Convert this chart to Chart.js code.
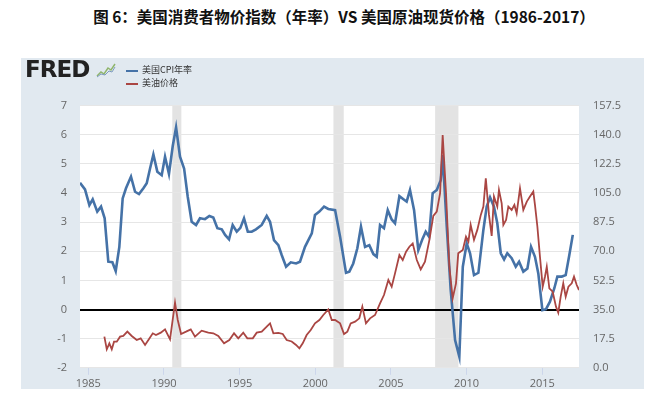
<!DOCTYPE html>
<html>
<head>
<meta charset="utf-8">
<script src="https://cdn.jsdelivr.net/npm/chart.js@4.4.0/dist/chart.umd.min.js"></script>
<style>
    body { margin: 0; width: 662px; height: 411px; background: #fff; position: relative; overflow: hidden; font-family: "Noto Sans CJK SC", sans-serif; }
    #titulo { position: absolute; top: 5px; left: 13px; width: 662px; text-align: center; font-size: 15.5px; font-weight: bold; color: #111; white-space: nowrap; }
    #grafico { position: absolute; left: 0; top: 0; }
    #logo { position: absolute; left: 25px; top: 56px; font-family: "DejaVu Sans", sans-serif; font-weight: bold; font-size: 23px; letter-spacing: -1px; color: #222; }
    #icone { position: absolute; left: 96px; top: 62px; }
    .leg { position: absolute; left: 126px; font-size: 9px; color: #333; line-height: 12px; }
    .leg span { display: inline-block; width: 12px; height: 2px; vertical-align: middle; margin-right: 4px; }
</style>
</head>
<body>
<div id="titulo">图 6：美国消费者物价指数（年率）VS 美国原油现货价格（1986-2017）</div>
<canvas id="grafico" width="662" height="411"></canvas>
<div id="logo">FRED</div>
<svg id="icone" width="20" height="16">
    <rect x="0" y="0" width="20" height="16" fill="#e1e9f0"/>
    <polyline points="1,14 5,10 8,12 12,6 15,8 19,2" fill="none" stroke="#8fb56c" stroke-width="1.5"/>
    <polyline points="1,15 5,12 9,13 13,9 16,10 19,5" fill="none" stroke="#7d9bbf" stroke-width="1"/>
</svg>
<div class="leg" style="top:64px"><span style="background:#4572a7"></span>美国CPI年率</div>
<div class="leg" style="top:77px"><span style="background:#aa4643"></span>美油价格</div>

<script>
// ===== Dados =====
const anosCPI = [1984.45, 1984.78, 1985.07, 1985.29, 1985.59, 1985.84, 1986.08, 1986.32, 1986.59, 1986.81,
    1987.05, 1987.27, 1987.49, 1987.82, 1988.09, 1988.35, 1988.64, 1988.86, 1989.08, 1989.30,
    1989.56, 1989.85, 1990.07, 1990.33, 1990.58, 1990.80, 1991.06, 1991.33, 1991.57, 1991.83,
    1992.12, 1992.38, 1992.71, 1993.00, 1993.26, 1993.53, 1993.82, 1994.04, 1994.30, 1994.54,
    1994.81, 1995.05, 1995.29, 1995.54, 1995.80, 1996.08, 1996.46, 1996.79, 1997.01, 1997.27,
    1997.56, 1997.78, 1998.07, 1998.38, 1998.73, 1998.99, 1999.32, 1999.77, 1999.98, 2000.27,
    2000.58, 2000.86, 2001.31, 2001.64, 2002.03, 2002.25, 2002.51, 2002.78, 2003.02, 2003.29,
    2003.57, 2003.84, 2004.06, 2004.28, 2004.54, 2004.79, 2005.05, 2005.27, 2005.56, 2006.04,
    2006.26, 2006.53, 2006.81, 2007.10, 2007.30, 2007.52, 2007.76, 2008.03, 2008.29, 2008.42,
    2008.69, 2008.95, 2009.24, 2009.52, 2009.75, 2010.01, 2010.23, 2010.49, 2010.78, 2011.11,
    2011.33, 2011.55, 2011.81, 2012.03, 2012.26, 2012.48, 2012.69, 2012.98, 2013.25, 2013.47,
    2013.75, 2014.02, 2014.26, 2014.52, 2014.74, 2015.01, 2015.25, 2015.51, 2015.80, 2016.00,
    2016.29, 2016.55, 2016.77, 2017.02];
const valoresCPI = [4.35, 4.12, 3.58, 3.78, 3.36, 3.53, 3.13, 1.64, 1.62, 1.32,
    2.15, 3.81, 4.16, 4.56, 4.04, 3.96, 4.16, 4.33, 4.84, 5.32,
    4.73, 4.61, 5.24, 4.65, 5.61, 6.25, 5.24, 4.84, 3.87, 3.01,
    2.90, 3.13, 3.10, 3.21, 3.16, 2.79, 2.75, 2.56, 2.41, 2.90,
    2.67, 2.80, 3.13, 2.67, 2.67, 2.75, 2.90, 3.21, 3.01, 2.38,
    2.21, 1.87, 1.47, 1.62, 1.58, 1.64, 2.15, 2.61, 3.24, 3.36,
    3.53, 3.45, 3.41, 2.50, 1.26, 1.30, 1.58, 2.10, 2.84, 2.15,
    2.21, 1.90, 1.81, 2.90, 2.79, 3.41, 3.09, 2.96, 3.89, 3.70,
    4.10, 3.41, 2.04, 2.44, 2.67, 2.50, 3.99, 4.10, 4.44, 5.30,
    2.84, 0.67, -1.05, -1.62, 1.47, 2.27, 1.93, 1.18, 1.26, 2.73,
    3.53, 3.85, 3.53, 2.96, 1.93, 1.72, 1.93, 1.76, 1.47, 1.64,
    1.30, 1.41, 2.15, 1.81, 1.24, -0.02, 0.01, 0.27, 0.73, 1.13,
    1.13, 1.18, 1.81, 2.56];

const anosPetroleo = [1986.06, 1986.22, 1986.39, 1986.55, 1986.70, 1986.88, 1987.10, 1987.31, 1987.58, 1987.87,
    1988.20, 1988.46, 1988.75, 1988.97, 1989.26, 1989.47, 1989.79, 1990.07, 1990.40, 1990.73,
    1990.91, 1991.13, 1991.46, 1991.77, 1992.05, 1992.49, 1992.93, 1993.26, 1993.59, 1993.97,
    1994.32, 1994.63, 1994.91, 1995.24, 1995.51, 1995.87, 1996.13, 1996.46, 1996.79, 1997.01,
    1997.23, 1997.56, 1997.85, 1998.11, 1998.44, 1998.73, 1998.95, 1999.17, 1999.43, 1999.70,
    1999.98, 2000.27, 2000.53, 2000.86, 2001.09, 2001.31, 2001.64, 2001.90, 2002.12, 2002.34,
    2002.63, 2002.91, 2003.11, 2003.35, 2003.62, 2003.95, 2004.28, 2004.54, 2004.83, 2005.05,
    2005.27, 2005.56, 2005.78, 2006.00, 2006.22, 2006.44, 2006.71, 2006.97, 2007.25, 2007.54,
    2007.80, 2008.03, 2008.25, 2008.42, 2008.64, 2008.86, 2009.08, 2009.30, 2009.45, 2009.75,
    2009.96, 2010.12, 2010.27, 2010.49, 2010.71, 2010.94, 2011.11, 2011.27, 2011.48, 2011.66,
    2011.81, 2012.03, 2012.14, 2012.32, 2012.43, 2012.61, 2012.76, 2012.98, 2013.16, 2013.31,
    2013.53, 2013.75, 2013.98, 2014.19, 2014.41, 2014.52, 2014.68, 2014.85, 2015.03, 2015.18,
    2015.30, 2015.47, 2015.69, 2015.91, 2016.06, 2016.22, 2016.39, 2016.55, 2016.73, 2016.95,
    2017.10, 2017.28, 2017.43];
const valoresPetroleo = [18.7, 11.1, 14.7, 11.1, 15.7, 15.7, 18.7, 19.1, 21.7, 19.1,
    16.7, 17.7, 13.7, 16.7, 20.7, 19.7, 21.1, 23.1, 17.1, 39.1,
    28.7, 20.3, 21.7, 23.1, 18.7, 22.3, 21.1, 20.7, 19.1, 14.7,
    16.7, 20.7, 17.7, 21.1, 17.7, 17.7, 21.1, 21.7, 24.7, 26.7,
    20.7, 21.0, 20.3, 16.7, 15.8, 13.7, 11.7, 14.7, 19.7, 22.7,
    26.7, 28.7, 31.7, 35.0, 28.7, 28.7, 26.7, 20.3, 21.7, 26.7,
    27.7, 29.7, 36.7, 26.7, 29.7, 31.7, 38.7, 43.7, 52.7, 48.7,
    56.7, 67.7, 64.7, 69.7, 72.7, 74.7, 64.7, 59.1, 63.7, 76.7,
    91.2, 93.8, 104.8, 139.8, 104.8, 60.7, 41.7, 50.7, 68.8, 70.8,
    78.7, 75.7, 85.8, 76.8, 82.8, 91.8, 96.8, 113.8, 91.8, 79.2,
    102.8, 96.8, 106.8, 98.8, 85.8, 88.8, 96.8, 94.8, 97.8, 92.8,
    107.8, 94.8, 99.8, 102.8, 105.8, 97.8, 84.7, 66.7, 48.7, 54.7,
    60.7, 47.7, 45.7, 36.7, 33.1, 42.7, 50.7, 42.7, 48.7, 50.7,
    54.7, 49.7, 46.7];

// períodos de recessão (faixas cinzas)
const recessoes = [[1990.55, 1991.15], [2001.2, 2001.88], [2007.92, 2009.46]];

const ticksAnos = [1985, 1990, 1995, 2000, 2005, 2010, 2015];
const ticksCPI = [-2, -1, 0, 1, 2, 3, 4, 5, 6, 7];
const ticksPreco = [0, 17.5, 35, 52.5, 70, 87.5, 105, 122.5, 140, 157.5];

// ===== Plugin do fundo: painel azulado, área branca + recessões =====
const fundoPlugin = {
    id: 'fundo',
    beforeDraw(chart) {
        const { ctx, chartArea: a, scales: { x } } = chart;
        ctx.save();
        ctx.fillStyle = '#e1e9f0';
        ctx.fillRect(21, 58, 623, 331);
        ctx.fillStyle = '#ffffff';
        ctx.fillRect(a.left, a.top, a.right - a.left, a.bottom - a.top);
        ctx.fillStyle = '#e3e3e3';
        recessoes.forEach(([ini, fim]) => {
            const x0 = x.getPixelForValue(ini);
            const x1 = x.getPixelForValue(fim);
            ctx.fillRect(x0, a.top, x1 - x0, a.bottom - a.top);
        });
        ctx.restore();
    }
};

const fonteEixo = { family: 'Open Sans', size: 11 };

const ctx = document.getElementById('grafico').getContext('2d');
new Chart(ctx, {
    type: 'line',
    data: {
        datasets: [{
            label: '美油价格',
            data: anosPetroleo.map((a, i) => ({ x: a, y: valoresPetroleo[i] })),
            yAxisID: 'y1',
            borderColor: '#aa4643',
            borderWidth: 1.8,
            pointRadius: 0,
            tension: 0
        }, {
            label: '美国CPI年率',
            data: anosCPI.map((a, i) => ({ x: a, y: valoresCPI[i] })),
            yAxisID: 'y',
            borderColor: '#4572a7',
            borderWidth: 2.6,
            pointRadius: 0,
            tension: 0
        }]
    },
    options: {
        responsive: false,
        animation: false,
        layout: { padding: { left: 21, right: 18, top: 105.5, bottom: 21.2 } },
        plugins: { legend: { display: false }, tooltip: { enabled: false } },
        scales: {
            x: {
                type: 'linear',
                min: 1984.45,
                max: 2017.43,
                afterBuildTicks: s => { s.ticks = ticksAnos.map(v => ({ value: v })); },
                afterFit: s => { s.height = 22; },
                ticks: { autoSkip: false, maxRotation: 0, padding: 2, color: '#666', font: fonteEixo, callback: v => String(v) },
                grid: { drawOnChartArea: false, tickLength: 7, color: '#ccd6eb' },
                border: { display: false }
            },
            y: {
                position: 'left',
                min: -2,
                max: 7,
                afterBuildTicks: s => { s.ticks = ticksCPI.map(v => ({ value: v })); },
                afterFit: s => { s.width = 59; },
                ticks: { padding: 13, color: '#666', font: fonteEixo },
                grid: {
                    drawTicks: false,
                    color: c => c.tick && c.tick.value === 0 ? '#000000' : '#e6e6e6',
                    lineWidth: c => c.tick && c.tick.value === 0 ? 2 : 1
                },
                border: { display: false }
            },
            y1: {
                position: 'right',
                min: 0,
                max: 157.5,
                afterBuildTicks: s => { s.ticks = ticksPreco.map(v => ({ value: v })); },
                afterFit: s => { s.width = 65; },
                ticks: { padding: 14, color: '#666', font: fonteEixo, callback: v => v.toFixed(1) },
                grid: { drawOnChartArea: false, drawTicks: false },
                border: { display: false }
            }
        }
    },
    plugins: [fundoPlugin]
});
</script>
</body>
</html>
